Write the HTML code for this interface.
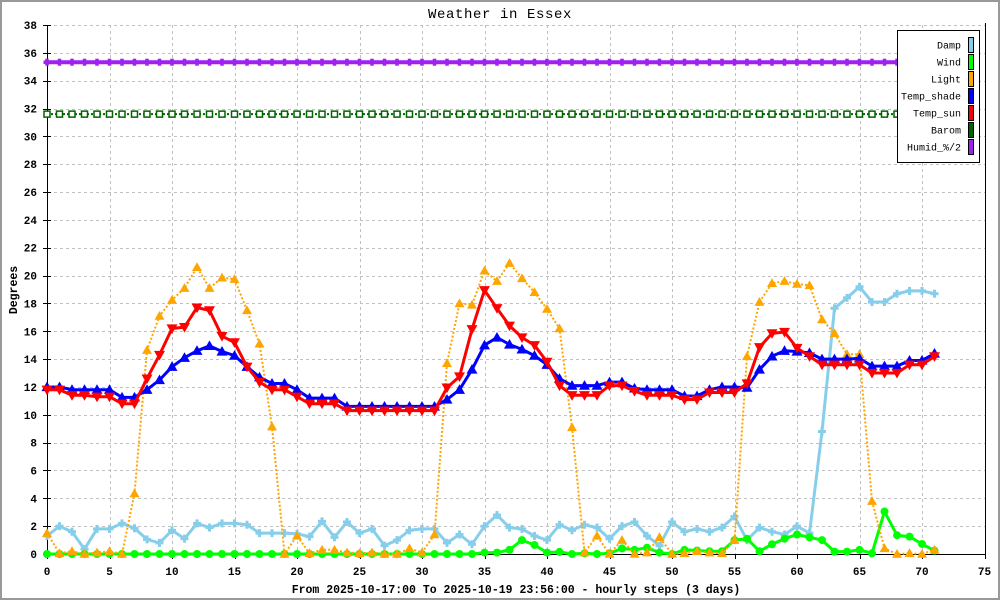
<!DOCTYPE html>
<html><head><meta charset="utf-8"><style>
html,body{margin:0;padding:0;background:#fff}
svg{display:block}
text{font-family:"Liberation Mono","DejaVu Sans Mono",monospace}
</style></head><body>
<svg id="c" width="1000" height="600" viewBox="0 0 1000 600" xmlns="http://www.w3.org/2000/svg">
<rect x="1" y="1" width="998" height="598" fill="#fff" stroke="#999" stroke-width="2"/>
<g id="grid" stroke="#c0c0c0" stroke-width="1" stroke-dasharray="3,3" shape-rendering="crispEdges"></g>
<g id="axes" stroke="#000" stroke-width="1" shape-rendering="crispEdges">
<line x1="47.5" y1="25" x2="47.5" y2="554.5"/>
<line x1="47" y1="554.5" x2="985.5" y2="554.5"/>
<line x1="985.5" y1="23" x2="985.5" y2="554.5"/>
</g>
<g id="ticks" stroke="#000" stroke-width="1" shape-rendering="crispEdges"></g>
<g font-size="11" font-weight="bold" fill="#000" text-anchor="end">
<text x="37" y="558">0</text><text x="37" y="530.2">2</text><text x="37" y="502.3">4</text><text x="37" y="474.5">6</text><text x="37" y="446.6">8</text>
<text x="37" y="418.8">10</text><text x="37" y="390.9">12</text><text x="37" y="363.1">14</text><text x="37" y="335.3">16</text><text x="37" y="307.4">18</text>
<text x="37" y="279.6">20</text><text x="37" y="251.7">22</text><text x="37" y="223.9">24</text><text x="37" y="196">26</text><text x="37" y="168.2">28</text>
<text x="37" y="140.4">30</text><text x="37" y="112.5">32</text><text x="37" y="84.7">34</text><text x="37" y="56.8">36</text><text x="37" y="29">38</text>
</g>
<g font-size="11" font-weight="bold" fill="#000" text-anchor="middle">
<text x="47" y="575">0</text><text x="109.5" y="575">5</text><text x="172" y="575">10</text><text x="234.5" y="575">15</text>
<text x="297" y="575">20</text><text x="359.5" y="575">25</text><text x="422" y="575">30</text><text x="484.5" y="575">35</text>
<text x="547" y="575">40</text><text x="609.5" y="575">45</text><text x="672" y="575">50</text><text x="734.5" y="575">55</text>
<text x="797" y="575">60</text><text x="859.5" y="575">65</text><text x="922" y="575">70</text><text x="984.5" y="575">75</text>
</g>
<text x="500" y="18" font-size="14" letter-spacing="0.6" text-anchor="middle" fill="#000">Weather in Essex</text>
<text x="516" y="593" font-size="11.5" font-weight="bold" text-anchor="middle" fill="#000">From 2025-10-17:00 To 2025-10-19 23:56:00 - hourly steps (3 days)</text>
<text transform="translate(17,290) rotate(-90)" font-size="11.5" font-weight="bold" text-anchor="middle" fill="#000">Degrees</text>
<g id="series"></g>
<g id="legend">
<rect x="897.5" y="30.5" width="82" height="132" fill="#fff" stroke="#000" stroke-width="1" shape-rendering="crispEdges"/>
<g font-size="10" fill="#000" text-anchor="end">
<text x="961" y="48.5">Damp</text>
<text x="961" y="65.5">Wind</text>
<text x="961" y="82.5">Light</text>
<text x="961" y="99.5">Temp_shade</text>
<text x="961" y="116.5">Temp_sun</text>
<text x="961" y="133.5">Barom</text>
<text x="961" y="150.5">Humid_%/2</text>
</g>
<g stroke="#000" stroke-width="1" shape-rendering="crispEdges">
<rect x="968.5" y="37.5" width="5" height="15" fill="#87ceeb"/>
<rect x="968.5" y="54.5" width="5" height="15" fill="#00ff00"/>
<rect x="968.5" y="71.5" width="5" height="15" fill="#ffa500"/>
<rect x="968.5" y="88.5" width="5" height="15" fill="#0000ff"/>
<rect x="968.5" y="105.5" width="5" height="15" fill="#ff0000"/>
<rect x="968.5" y="122.5" width="5" height="15" fill="#006400"/>
<rect x="968.5" y="139.5" width="5" height="15" fill="#a020f0"/>
</g>
</g>
</svg>
<script>
(function(){
var NS="http://www.w3.org/2000/svg";
function el(p,n,a){var e=document.createElementNS(NS,n);for(var k in a)e.setAttribute(k,a[k]);p.appendChild(e);return e;}
var X=function(i){return 47+12.5*i;}, Y=function(v){return 554-13.92*v;};
var grid=document.getElementById('grid'), ticks=document.getElementById('ticks');
for(var v=2;v<=38;v+=2){var y=Math.round(Y(v))+0.5;el(grid,'line',{x1:48,y1:y,x2:985,y2:y});}
for(var k=1;k<15;k++){var x=Math.round(X(5*k))+0.5;el(grid,'line',{x1:x,y1:25,x2:x,y2:554});}
for(var v=0;v<=38;v+=2){var y=Math.round(Y(v))+0.5;el(ticks,'line',{x1:43,y1:y,x2:51,y2:y});}
for(var k=0;k<=15;k++){var x=Math.round(X(5*k))+0.5;el(ticks,'line',{x1:x,y1:554,x2:x,y2:559});}

var damp=[1.3,2.0,1.6,0.35,1.8,1.8,2.2,1.85,1.05,0.8,1.7,1.1,2.2,1.9,2.2,2.2,2.1,1.5,1.5,1.5,1.45,1.25,2.35,1.2,2.3,1.5,1.8,0.6,1.0,1.7,1.8,1.8,0.8,1.4,0.7,2.0,2.8,1.9,1.8,1.3,1.0,2.1,1.7,2.1,1.9,1.1,2.0,2.3,1.3,0.6,2.3,1.6,1.8,1.6,1.9,2.7,1.0,1.9,1.6,1.4,2.0,1.5,8.8,17.65,18.4,19.2,18.1,18.1,18.7,18.9,18.9,18.7];
var wind=[];for(var i=0;i<35;i++)wind.push(0);
wind=wind.concat([0.1,0.1,0.3,1.0,0.65,0.1,0.15,0,0.05,0,0.05,0.4,0.3,0.45,0.1,0,0.3,0.25,0.2,0.2,1.0,1.1,0.2,0.7,1.1,1.4,1.2,1.0,0.17,0.17,0.3,0.05,3.05,1.35,1.25,0.72,0.24]);
var light=[1.5,0.05,0.2,0,0.1,0.2,0,4.35,14.65,17.1,18.25,19.1,20.6,19.1,19.85,19.75,17.5,15.1,9.15,0,1.3,0.05,0.3,0.3,0.1,0.05,0.1,0,0,0.4,0.1,1.4,13.7,18.0,17.9,20.35,19.6,20.9,19.8,18.8,17.6,16.2,9.1,0.1,1.3,0,1.0,0,0.1,1.2,0,0.05,0.2,0.1,0.05,1.0,14.2,18.1,19.45,19.6,19.4,19.3,16.85,15.85,14.35,14.35,3.8,0.4,0,0.05,0,0.3];
var shade=[12.0,12.0,11.8,11.8,11.8,11.8,11.25,11.25,11.8,12.5,13.45,14.1,14.6,14.95,14.55,14.25,13.45,12.7,12.25,12.25,11.8,11.2,11.2,11.2,10.6,10.6,10.6,10.6,10.6,10.6,10.6,10.6,11.1,11.8,13.25,15.0,15.55,15.05,14.7,14.25,13.6,12.6,12.1,12.1,12.1,12.35,12.35,11.9,11.8,11.8,11.8,11.35,11.35,11.8,12.0,12.0,11.95,13.25,14.2,14.6,14.55,14.45,14.0,14.0,14.0,14.05,13.5,13.5,13.5,13.9,13.9,14.4];
var sun=[11.8,11.8,11.4,11.4,11.3,11.3,10.8,10.8,12.6,14.3,16.2,16.3,17.7,17.5,15.65,15.2,13.45,12.35,11.8,11.8,11.3,10.8,10.8,10.8,10.3,10.3,10.3,10.3,10.3,10.3,10.3,10.3,11.95,12.75,16.15,18.95,17.65,16.4,15.55,15.0,13.8,12.1,11.4,11.4,11.4,12.1,12.1,11.7,11.4,11.4,11.4,11.1,11.1,11.6,11.6,11.6,12.25,14.85,15.85,15.95,14.8,14.2,13.6,13.6,13.6,13.6,13.0,13.0,13.0,13.6,13.6,14.2];
var barom=[],humid=[];for(var i=0;i<72;i++){barom.push(31.6);humid.push(35.33);}

var S=document.getElementById('series');
function line(d,color,w,dash){
  var pts=d.map(function(v,i){return X(i).toFixed(1)+','+Y(v).toFixed(1);}).join(' ');
  var a={points:pts,fill:'none',stroke:color,'stroke-width':w,'stroke-linejoin':'round'};
  if(dash)a['stroke-dasharray']=dash;
  el(S,'polyline',a);
}
function marks(d,fn){for(var i=0;i<d.length;i++)fn(X(i),Y(d[i]));}
function triUp(c,s){return function(x,y){el(S,'polygon',{points:(x)+','+(y-s)+' '+(x+s)+','+(y+s*0.75)+' '+(x-s)+','+(y+s*0.75),fill:c});};}
function triDn(c,s){return function(x,y){el(S,'polygon',{points:(x)+','+(y+s)+' '+(x+s)+','+(y-s*0.75)+' '+(x-s)+','+(y-s*0.75),fill:c});};}
function plus(c,a,t){return function(x,y){el(S,'rect',{x:x-a,y:y-t/2,width:2*a,height:t,fill:c});el(S,'rect',{x:x-t/2,y:y-a,width:t,height:2*a,fill:c});};}
function circ(c,r){return function(x,y){el(S,'circle',{cx:x,cy:y,r:r,fill:c});};}
function sq(c,s){return function(x,y){el(S,'rect',{x:x-s,y:y-s,width:2*s,height:2*s,fill:'#fff',stroke:c,'stroke-width':1.5});};}

line(damp,'#87ceeb',3);marks(damp,plus('#87ceeb',4,3));
line(wind,'#00ff00',3);marks(wind,circ('#00ff00',4));
line(light,'#ffa500',2,'2,2');marks(light,triUp('#ffa500',5));
line(shade,'#0000ff',3);marks(shade,triUp('#0000ff',5.5));
line(sun,'#ff0000',3);marks(sun,triDn('#ff0000',5.5));
line(barom,'#006400',2,'2,2');marks(barom,sq('#006400',3));
line(humid,'#a020f0',4);marks(humid,plus('#a020f0',3.5,3.5));
})();
</script>
</body></html>
